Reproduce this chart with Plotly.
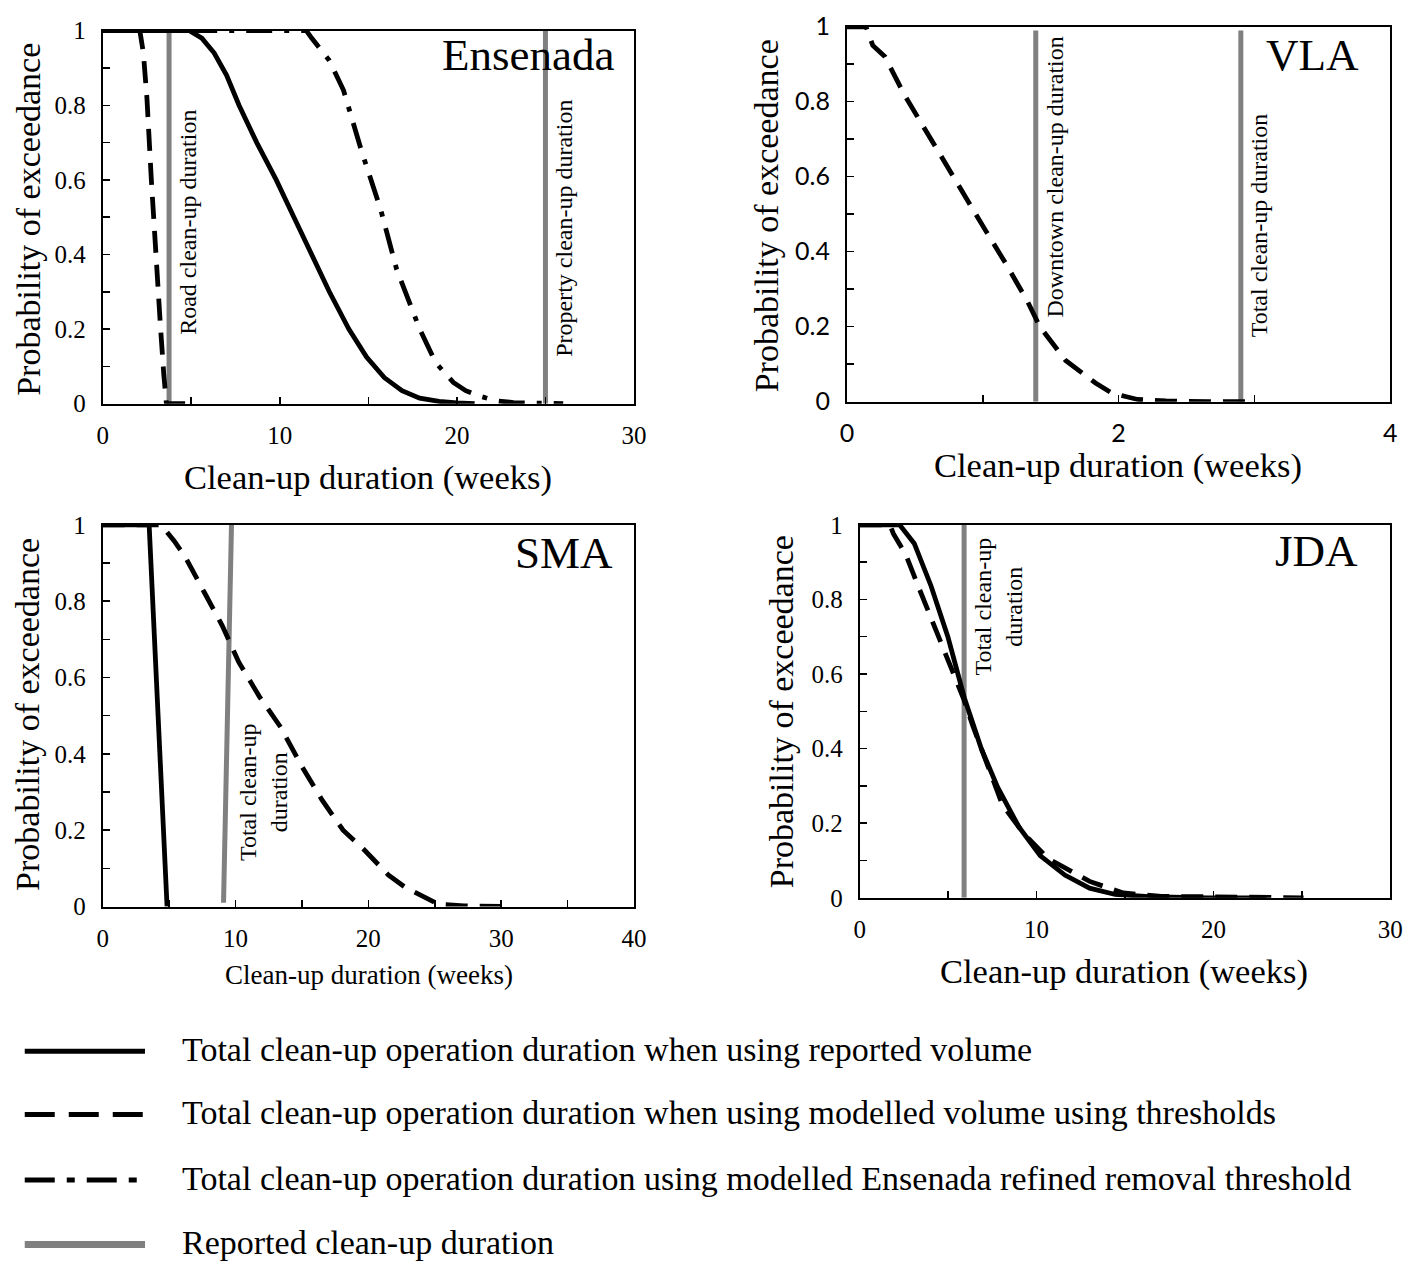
import plotly.graph_objects as go

W, H = 1418, 1279
SERIF = "Liberation Serif, Times New Roman, serif"
SANS = "Lato, Carlito, Liberation Sans, sans-serif"

# ---------------- data ----------------
# Ensenada
ens_solid_x = [0, 4.0, 4.9, 5.6, 6.3, 7.0, 7.7, 8.7, 9.8, 10.8, 11.8, 12.8, 13.9, 14.9, 15.9, 16.9, 17.9, 19.0, 20.0, 21.0]
ens_solid_y = [1, 1, 1, 0.98, 0.94, 0.88, 0.80, 0.70, 0.60, 0.50, 0.40, 0.30, 0.20, 0.125, 0.07, 0.035, 0.015, 0.006, 0.002, 0]
ens_dash_x = [0, 2.1, 2.3, 2.5, 2.75, 3.0, 3.26, 3.45, 3.6, 5.0]
ens_dash_y = [1, 1, 0.94, 0.82, 0.60, 0.39, 0.21, 0.08, 0, 0]
ens_dashdot_x = [5.0, 11.5, 11.8, 12.8, 13.6, 14.6, 15.7, 16.6, 17.9, 18.8, 19.8, 20.5, 21.3, 22.2, 23.2, 24.5, 26.0]
ens_dashdot_y = [1, 1, 0.98, 0.92, 0.84, 0.68, 0.52, 0.36, 0.20, 0.11, 0.057, 0.035, 0.02, 0.008, 0.003, 0.001, 0]
ens_reported = [3.75, 25.0]
ens_reported_labels = ["Road clean-up duration", "Property clean-up duration"]

# VLA
vla_dash_x = [0, 0.14, 0.19, 0.28, 0.42, 0.56, 0.71, 0.87, 1.02, 1.18, 1.33, 1.42, 1.61, 1.83, 1.95, 2.14, 2.35, 2.66, 3.0]
vla_dash_y = [1, 1, 0.95, 0.92, 0.82, 0.735, 0.64, 0.544, 0.457, 0.362, 0.267, 0.20, 0.11, 0.05, 0.023, 0.006, 0.002, 0, 0]
vla_reported = [1.39, 2.9]
vla_reported_labels = ["Downtown clean-up duration", "Total clean-up duration"]

# SMA
sma_solid_x = [0, 3.5, 4.85]
sma_solid_y = [1, 1, 0]
sma_dash_x = [0, 4.4, 5.4, 6.2, 7.7, 9.0, 10.25, 11.8, 13.4, 14.95, 16.5, 18.1, 19.65, 21.5, 22.8, 24.4, 25.3, 27.2, 30.6]
sma_dash_y = [1, 1, 0.957, 0.917, 0.82, 0.736, 0.64, 0.55, 0.47, 0.37, 0.28, 0.20, 0.15, 0.083, 0.05, 0.023, 0.006, 0.002, 0]
sma_reported_x = [9.1, 9.7]
sma_reported_y = [0.01, 1.0]
sma_reported_label = "Total clean-up<br>duration"

# JDA
jda_solid_x = [0, 2.25, 3.08, 4.03, 4.98, 5.92, 6.87, 7.8, 9.0, 10.2, 11.6, 13.0, 14.45, 16.35, 19.7, 23.0]
jda_solid_y = [1, 1, 0.95, 0.836, 0.70, 0.535, 0.40, 0.296, 0.19, 0.113, 0.061, 0.026, 0.009, 0.003, 0, 0]
jda_dash_x = [0, 1.7, 1.9, 2.6, 3.3, 4.03, 4.74, 5.45, 5.9, 6.4, 8.06, 9.24, 10.66, 13.0, 14.9, 17.06, 22.7, 25.1]
jda_dash_y = [1, 1, 0.976, 0.92, 0.836, 0.75, 0.67, 0.59, 0.53, 0.46, 0.25, 0.174, 0.105, 0.044, 0.013, 0.004, 0, 0]
jda_reported = [5.9]
jda_reported_label = "Total clean-up<br>duration"

panel_names = ["Ensenada", "VLA", "SMA", "JDA"]
x_ranges = [[0, 30], [0, 4], [0, 40], [0, 30]]
x_dticks = [10, 2, 10, 10]
x_minor = [5, 1, 5, 5]
x_title = "Clean-up duration (weeks)"
y_title = "Probability of exceedance"

legend_labels = [
    "Total clean-up operation duration when using reported volume",
    "Total clean-up operation duration when using modelled volume using thresholds",
    "Total clean-up operation duration using modelled Ensenada refined removal threshold",
    "Reported clean-up duration",
]

# ---------------- layout geometry (pixels) ----------------
boxes = [  # left, right, top, bottom
    (97, 636, 15, 397),
    (852, 1403, 11, 395),
    (97, 636, 521, 912),
    (865, 1403, 521, 903),
]


def px(x):
    return x / W


def py(y):
    return 1 - y / H


SOLID = dict(color="black", width=4.8)
DASH = dict(color="black", width=4.8, dash="22px,12px")
DASHDOT = dict(color="black", width=4.8, dash="26px,12px,5px,12px")
GRAY = dict(color="#808080", width=5)

fig = go.Figure()


def add(x, y, line, i):
    ax = "" if i == 0 else str(i + 1)
    fig.add_trace(go.Scatter(x=x, y=y, mode="lines", line=line, showlegend=False,
                             xaxis="x" + ax, yaxis="y" + ax, hoverinfo="skip"))


# Ensenada
for xv in ens_reported:
    add([xv, xv], [0, 1], GRAY, 0)
add(ens_dashdot_x, ens_dashdot_y, DASHDOT, 0)
add(ens_dash_x, ens_dash_y, DASH, 0)
add(ens_solid_x, ens_solid_y, SOLID, 0)
# VLA
for xv in vla_reported:
    add([xv, xv], [0, 0.99], GRAY, 1)
add(vla_dash_x, vla_dash_y, DASH, 1)
# SMA
add(sma_reported_x, sma_reported_y, GRAY, 2)
add(sma_dash_x, sma_dash_y, DASH, 2)
add(sma_solid_x, sma_solid_y, SOLID, 2)
# JDA
for xv in jda_reported:
    add([xv, xv], [0, 1], GRAY, 3)
add(jda_dash_x, jda_dash_y, DASH, 3)
add(jda_solid_x, jda_solid_y, SOLID, 3)

layout = dict(width=W, height=H, margin=dict(l=0, r=0, t=0, b=0),
              paper_bgcolor="white", plot_bgcolor="white", showlegend=False)

for i, (l, r, t, b) in enumerate(boxes):
    ax = "" if i == 0 else str(i + 1)
    tfont = dict(family=SANS if i == 1 else SERIF, size=25, color="black")
    layout["xaxis" + ax] = dict(
        domain=[px(l), px(r)], range=x_ranges[i], dtick=x_dticks[i], tick0=0,
        anchor="y" + ax, showline=True, mirror=True, linecolor="black", linewidth=2,
        showgrid=False, zeroline=False, ticks="inside", ticklen=7, tickwidth=1.5,
        tickcolor="black", tickfont=tfont, ticklabelstandoff=8, ticklabeloverflow="allow",
        minor=dict(dtick=x_minor[i], ticks="inside", ticklen=7, tickwidth=1.5, tickcolor="black", showgrid=False),
    )
    layout["yaxis" + ax] = dict(
        domain=[py(b), py(t)], range=[0, 1], dtick=0.2, tick0=0,
        anchor="x" + ax, showline=True, mirror=True, linecolor="black", linewidth=2,
        showgrid=False, zeroline=False, ticks="inside", ticklen=7, tickwidth=1.5,
        tickcolor="black", tickfont=tfont, ticklabelstandoff=10, ticklabeloverflow="allow",
        minor=dict(dtick=0.1, ticks="inside", ticklen=7, tickwidth=1.5, tickcolor="black", showgrid=False),
    )

annotations = []
shapes = []

# panel names
name_pos = [(618, 40), (1373, 40), (617, 550), (1372, 548)]
for name, (x, y) in zip(panel_names, name_pos):
    annotations.append(dict(text=name, x=px(x), y=py(y), xref="paper", yref="paper",
                            xanchor="right", yanchor="middle", showarrow=False,
                            font=dict(family=SERIF, size=45, color="black")))

# axis titles
xt_pos = [(366, 473, 34.5), (1127, 460, 34.5), (367, 982, 27), (1133, 978, 34.5)]
for x, y, s in xt_pos:
    annotations.append(dict(text=x_title, x=px(x), y=py(y), xref="paper", yref="paper",
                            xanchor="center", yanchor="middle", showarrow=False,
                            font=dict(family=SERIF, size=s, color="black")))
yt_pos = [(21, 208), (770, 205), (21, 715), (785, 712)]
for x, y in yt_pos:
    annotations.append(dict(text=y_title, x=px(x), y=py(y), xref="paper", yref="paper",
                            xanchor="center", yanchor="middle", showarrow=False, textangle=-90,
                            font=dict(family=SERIF, size=34, color="black")))

# reported-duration labels
ref_lbl = dict(showarrow=False, textangle=-90, xanchor="left", yanchor="middle",
               font=dict(family=SERIF, size=24, color="black"))
annotations.append(dict(text=ens_reported_labels[0], x=ens_reported[0], y=0.485, xref="x", yref="y", xshift=4, **ref_lbl))
annotations.append(dict(text=ens_reported_labels[1], x=ens_reported[1], y=0.47, xref="x", yref="y", xshift=4, **ref_lbl))
annotations.append(dict(text=vla_reported_labels[0], x=vla_reported[0], y=0.60, xref="x2", yref="y2", xshift=4, **ref_lbl))
annotations.append(dict(text=vla_reported_labels[1], x=vla_reported[1], y=0.47, xref="x2", yref="y2", xshift=4, **ref_lbl))
annotations.append(dict(text=sma_reported_label, x=sma_reported_x[1], y=0.30, xref="x3", yref="y3", xshift=1, **ref_lbl))
annotations.append(dict(text=jda_reported_label, x=jda_reported[0], y=0.78, xref="x4", yref="y4", xshift=4, **ref_lbl))

# legend (drawn manually)
leg_y = [1060, 1125, 1192, 1258]
leg_styles = [
    dict(color="black", width=5),
    dict(color="black", width=5, dash="30px,14px"),
    dict(color="black", width=5, dash="30px,12px,8px,12px"),
    dict(color="#808080", width=7),
]
for yy, st, lab in zip(leg_y, leg_styles, legend_labels):
    shapes.append(dict(type="line", xref="paper", yref="paper", x0=px(18), x1=px(140),
                       y0=py(yy), y1=py(yy), line=st))
    annotations.append(dict(text=lab, x=px(175), y=py(yy - 2), xref="paper", yref="paper",
                            xanchor="left", yanchor="middle", showarrow=False,
                            font=dict(family=SERIF, size=34, color="black")))

layout["annotations"] = annotations
layout["shapes"] = shapes
fig.update_layout(**layout)
fig.write_html("out.html", config={"displayModeBar": False, "staticPlot": True},
               post_script="document.body.style.margin='0px';document.body.style.overflow='hidden';")
